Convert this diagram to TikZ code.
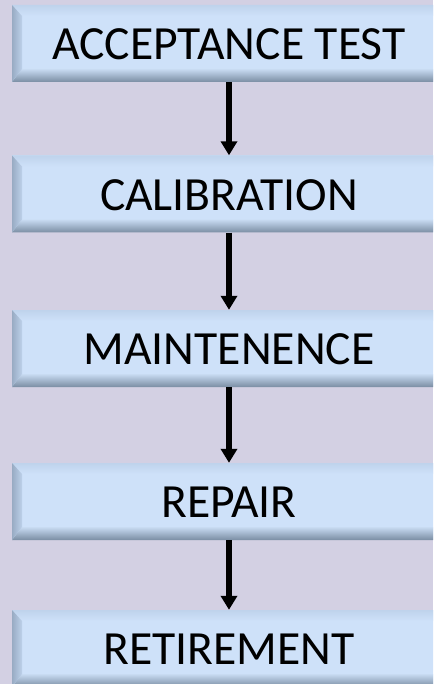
\documentclass[tikz,border=0pt]{standalone}
\usepackage{fontspec}
\setmainfont{Carlito}
\usetikzlibrary{arrows.meta}

\definecolor{bgcol}{HTML}{D3D0E3}
\definecolor{facecol}{HTML}{CEE1F9}
\definecolor{hilite}{HTML}{F2F8FF}
\definecolor{toprim}{HTML}{BFD3EC}
\definecolor{sidedark}{HTML}{98ABC3}
\definecolor{sidelight}{HTML}{BDD1EA}
\definecolor{lowdark}{HTML}{7A8DA3}
\definecolor{lowlight}{HTML}{C8DBF2}

\tikzset{
  bevelbox/.style={
    rectangle, inner sep=0pt, minimum width=434pt, minimum height=77pt,
    fill=facecol, text=black,
    font=\fontsize{47.6}{56}\selectfont,
    text height=32.5pt, text depth=0pt,
    path picture={
      \coordinate (nw) at (path picture bounding box.north west);
      \coordinate (ne) at (path picture bounding box.north east);
      \coordinate (sw) at (path picture bounding box.south west);
      \coordinate (se) at (path picture bounding box.south east);
      % top bevel
      \shade[top color=toprim, middle color=hilite, bottom color=facecol]
        (nw) -- (ne) -- ([xshift=-10pt,yshift=-11pt]ne)
        -- ([xshift=10pt,yshift=-11pt]nw) -- cycle;
      % bottom bevel
      \shade[top color=lowlight, bottom color=lowdark]
        (sw) -- (se) -- ([xshift=-10pt,yshift=13pt]se)
        -- ([xshift=10pt,yshift=13pt]sw) -- cycle;
      % left bevel
      \shade[left color=sidedark, right color=sidelight]
        (nw) -- ([xshift=10pt,yshift=-11pt]nw)
        -- ([xshift=10pt,yshift=13pt]sw) -- (sw) -- cycle;
      % right bevel
      \shade[left color=sidelight, right color=sidedark]
        (ne) -- ([xshift=-10pt,yshift=-11pt]ne)
        -- ([xshift=-10pt,yshift=13pt]se) -- (se) -- cycle;
    }
  },
  flowarrow/.style={line width=6pt, -{Triangle[width=16pt,length=14pt]}}
}

\begin{document}
\begin{tikzpicture}[x=1pt,y=-1pt]
  \useasboundingbox (0,0) rectangle (433,684);
  \clip (0,0) rectangle (433,684);
  \fill[bgcol] (0,0) rectangle (433,684);

  \node[bevelbox] (accept) at (229,43.5)  {ACCEPTANCE TEST};
  \node[bevelbox] (calib)  at (229,194)   {CALIBRATION};
  \node[bevelbox] (maint)  at (229,348.5) {MAINTENENCE};
  \node[bevelbox] (repair) at (229,501.5) {REPAIR};
  \node[bevelbox] (retire) at (229,648.5) {RETIREMENT};

  \draw[flowarrow] (accept.south) -- (calib.north);
  \draw[flowarrow] (calib.south)  -- (maint.north);
  \draw[flowarrow] (maint.south)  -- (repair.north);
  \draw[flowarrow] (repair.south) -- (retire.north);
\end{tikzpicture}
\end{document}
